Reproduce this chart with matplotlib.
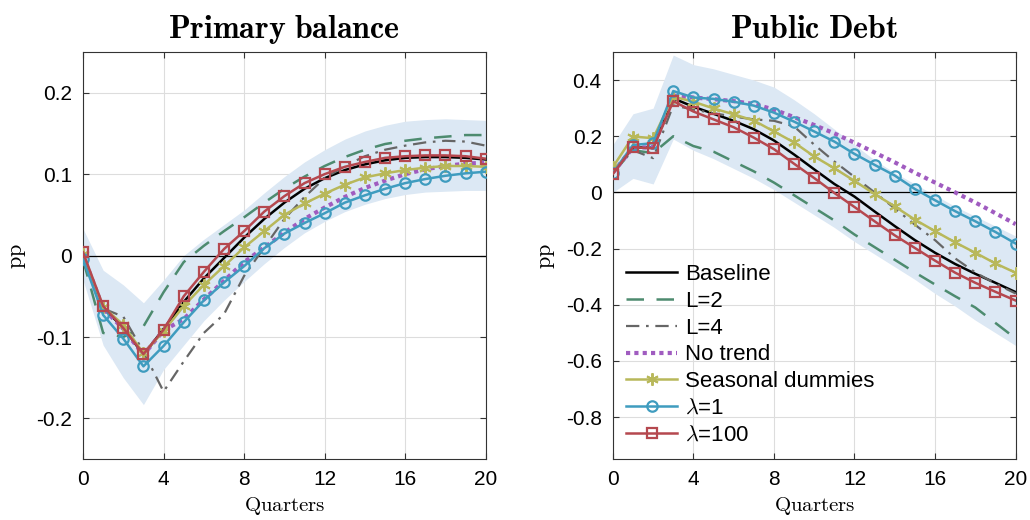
import numpy as np
import matplotlib.pyplot as plt

plt.rcParams['mathtext.fontset'] = 'cm'
plt.rcParams['font.family'] = ['Liberation Sans', 'DejaVu Sans']

quarters = np.arange(21)

# Primary balance
pb_baseline = [0.0, -0.065, -0.088, -0.122, -0.090, -0.057, -0.028, -0.003, 0.022, 0.045, 0.065,
               0.082, 0.095, 0.105, 0.112, 0.117, 0.120, 0.121, 0.121, 0.120, 0.118]
pb_L2 = [-0.005, -0.095, -0.100, -0.087, -0.045, -0.008, 0.012, 0.030, 0.047, 0.065, 0.082,
         0.097, 0.110, 0.121, 0.130, 0.137, 0.141, 0.144, 0.146, 0.148, 0.148]
pb_L4 = [0.0, -0.065, -0.075, -0.118, -0.167, -0.130, -0.095, -0.072, -0.025, 0.010, 0.045,
         0.072, 0.095, 0.110, 0.122, 0.130, 0.135, 0.139, 0.141, 0.140, 0.135]
pb_notrend = [0.0, -0.065, -0.090, -0.122, -0.092, -0.078, -0.054, -0.031, -0.008, 0.010, 0.028,
              0.045, 0.059, 0.072, 0.083, 0.092, 0.100, 0.106, 0.110, 0.113, 0.114]
pb_seasonal = [0.002, -0.063, -0.085, -0.120, -0.093, -0.062, -0.036, -0.013, 0.010, 0.030, 0.050,
               0.064, 0.076, 0.087, 0.096, 0.101, 0.105, 0.108, 0.110, 0.110, 0.109]
pb_lam1 = [-0.004, -0.073, -0.102, -0.136, -0.111, -0.082, -0.055, -0.033, -0.013, 0.009, 0.027,
           0.040, 0.052, 0.065, 0.074, 0.082, 0.089, 0.094, 0.098, 0.101, 0.103]
pb_lam100 = [0.004, -0.062, -0.089, -0.121, -0.091, -0.050, -0.020, 0.008, 0.030, 0.054, 0.073,
             0.089, 0.100, 0.109, 0.115, 0.120, 0.122, 0.123, 0.123, 0.122, 0.119]
pb_lower = [-0.030, -0.110, -0.150, -0.183, -0.140, -0.110, -0.080, -0.055, -0.032, -0.010, 0.010,
            0.028, 0.042, 0.054, 0.063, 0.070, 0.075, 0.078, 0.079, 0.080, 0.080]
pb_upper = [0.033, -0.018, -0.036, -0.058, -0.030, 0.000, 0.020, 0.038, 0.056, 0.077, 0.097,
            0.115, 0.130, 0.143, 0.153, 0.160, 0.165, 0.167, 0.168, 0.167, 0.166]

# Public debt
pd_baseline = [0.070, 0.160, 0.160, 0.335, 0.305, 0.280, 0.255, 0.225, 0.185, 0.135, 0.082,
               0.030, -0.015, -0.068, -0.120, -0.170, -0.215, -0.255, -0.290, -0.322, -0.355]
pd_L2 = [0.070, 0.150, 0.140, 0.200, 0.165, 0.145, 0.110, 0.075, 0.035, -0.010, -0.055,
         -0.100, -0.150, -0.195, -0.240, -0.285, -0.328, -0.370, -0.410, -0.465, -0.520]
pd_L4 = [0.070, 0.150, 0.122, 0.310, 0.295, 0.282, 0.270, 0.260, 0.255, 0.235, 0.170,
         0.110, 0.055, 0.000, -0.057, -0.115, -0.170, -0.235, -0.285, -0.325, -0.360]
pd_notrend = [0.070, 0.160, 0.160, 0.345, 0.338, 0.332, 0.325, 0.315, 0.295, 0.268, 0.240,
              0.210, 0.177, 0.142, 0.107, 0.070, 0.035, 0.000, -0.036, -0.074, -0.113]
pd_seasonal = [0.090, 0.199, 0.193, 0.341, 0.323, 0.299, 0.278, 0.256, 0.217, 0.178, 0.128,
               0.086, 0.041, -0.006, -0.050, -0.097, -0.138, -0.178, -0.215, -0.253, -0.286]
pd_lam1 = [0.069, 0.169, 0.175, 0.361, 0.338, 0.333, 0.323, 0.309, 0.284, 0.252, 0.217,
           0.181, 0.137, 0.098, 0.060, 0.012, -0.028, -0.067, -0.103, -0.141, -0.182]
pd_lam100 = [0.066, 0.161, 0.157, 0.325, 0.288, 0.260, 0.232, 0.195, 0.154, 0.102, 0.051,
             -0.002, -0.052, -0.103, -0.153, -0.198, -0.243, -0.286, -0.322, -0.354, -0.385]
pd_lower = [0.000, 0.050, 0.030, 0.190, 0.150, 0.120, 0.085, 0.050, 0.010, -0.035, -0.080,
            -0.125, -0.175, -0.220, -0.265, -0.310, -0.360, -0.405, -0.455, -0.500, -0.545]
pd_upper = [0.170, 0.280, 0.300, 0.489, 0.455, 0.440, 0.420, 0.400, 0.375, 0.330, 0.280,
            0.225, 0.170, 0.115, 0.070, 0.030, -0.010, -0.050, -0.085, -0.120, -0.155]

labels = ['Baseline', 'L=2', 'L=4', 'No trend', 'Seasonal dummies', r'$\lambda$=1', r'$\lambda$=100']
styles = [
    dict(color='black', lw=1.8),
    dict(color='#4d8b6f', lw=1.8, dashes=(7, 5)),
    dict(color='#666666', lw=1.6, dashes=(6, 3, 1.2, 3)),
    dict(color='#a05cc0', lw=3.0, dashes=(1.0, 1.0)),
    dict(color='#b8b85a', lw=1.8, marker=(6, 2, 0), ms=9, mew=1.4),
    dict(color='#3f9cbf', lw=1.8, marker='o', ms=7.5, mfc='none', mew=1.6),
    dict(color='#b5484f', lw=1.8, marker='s', ms=6.5, mfc='none', mew=1.6),
]

fig = plt.figure(figsize=(10.3, 5.2), dpi=100)
ax1 = fig.add_axes([0.0806, 0.117, 0.391, 0.783])
ax2 = fig.add_axes([0.595, 0.117, 0.391, 0.783])

panels = [
    (ax1, 'Primary balance', pb_lower, pb_upper,
     [pb_baseline, pb_L2, pb_L4, pb_notrend, pb_seasonal, pb_lam1, pb_lam100],
     (-0.25, 0.25), [-0.2, -0.1, 0, 0.1, 0.2]),
    (ax2, 'Public Debt', pd_lower, pd_upper,
     [pd_baseline, pd_L2, pd_L4, pd_notrend, pd_seasonal, pd_lam1, pd_lam100],
     (-0.95, 0.5), [-0.8, -0.6, -0.4, -0.2, 0, 0.2, 0.4]),
]

for ax, title, lo, hi, series, ylim, yticks in panels:
    ax.fill_between(quarters, lo, hi, color='#dce8f4', lw=0, zorder=1)
    ax.axhline(0, color='black', lw=0.9, zorder=2)
    for y, lab, st in zip(series, labels, styles):
        ax.plot(quarters, y, label=lab, zorder=3, **st)
    ax.set_xlim(0, 20)
    ax.set_ylim(*ylim)
    ax.set_xticks([0, 4, 8, 12, 16, 20])
    ax.set_yticks(yticks)
    ax.set_yticklabels(['0' if v == 0 else f'{v:g}' for v in yticks])
    ax.grid(True, color='#dddddd', lw=0.8, zorder=0)
    ax.set_axisbelow(True)
    ax.tick_params(direction='in', labelsize=15, top=True, right=True, length=4,
                   color='#333333', pad=8)
    for s in ax.spines.values():
        s.set_color('#333333')
        s.set_linewidth(0.8)
    ax.set_title(r'$\mathbf{' + title.replace(' ', r'\ ') + '}$', fontsize=23, pad=10)
    ax.set_xlabel(r'$\mathrm{Quarters}$', fontsize=15, labelpad=4)
    ax.set_ylabel(r'$\mathrm{pp}$', fontsize=16, labelpad=6)

ax2.legend(loc='lower left', bbox_to_anchor=(0.0, 0.0), frameon=False, fontsize=16,
           handlelength=2.3, labelspacing=0.26, borderaxespad=0.2, handletextpad=0.35)

fig.savefig('out.png', dpi=100)
